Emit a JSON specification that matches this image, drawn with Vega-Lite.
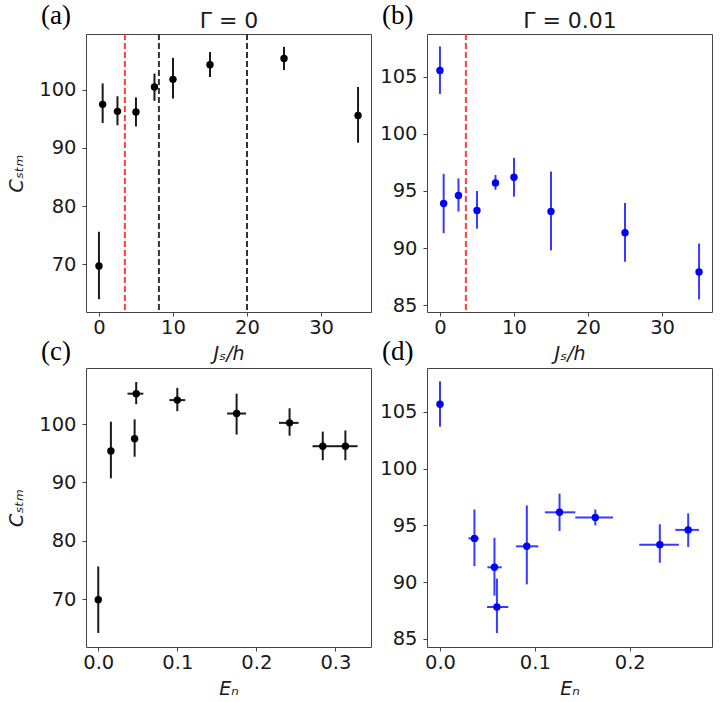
{
  "$schema": "https://vega.github.io/schema/vega-lite/v6.json",
  "padding": {"left": 7, "top": 1, "right": 8, "bottom": 2},
  "columns": 2,
  "spacing": {"row": -27, "column": 7},
  "config": {
    "font": "DejaVu Sans",
    "view": {"stroke": "#444", "strokeWidth": 1, "fill": "white"},
    "axis": {
      "grid": false,
      "domain": false,
      "labelFont": "DejaVu Sans",
      "labelFontSize": 19.5,
      "labelColor": "#1a1a1a",
      "tickColor": "#444",
      "tickSize": 4,
      "titleFont": "DejaVu Sans",
      "titleFontSize": 19,
      "titleFontWeight": "normal",
      "titleColor": "#1a1a1a"
    },
    "axisX": {"labelPadding": 2},
    "axisY": {"labelPadding": 6},
    "title": {"font": "Liberation Serif", "fontSize": 27, "fontWeight": "normal", "color": "black", "anchor": "start", "frame": "group", "dx": -45}
  },
  "datasets": {
    "a": [
      {"Js": 0, "C": 69.7, "lo": 64.0, "hi": 75.6},
      {"Js": 0.5, "C": 97.5, "lo": 94.3, "hi": 101.1},
      {"Js": 2.5, "C": 96.3, "lo": 93.9, "hi": 98.9},
      {"Js": 5, "C": 96.2, "lo": 93.7, "hi": 98.7},
      {"Js": 7.5, "C": 100.5, "lo": 98.1, "hi": 102.8},
      {"Js": 10, "C": 101.8, "lo": 98.5, "hi": 105.5},
      {"Js": 15, "C": 104.3, "lo": 102.2, "hi": 106.5},
      {"Js": 25, "C": 105.4, "lo": 103.4, "hi": 107.4},
      {"Js": 35, "C": 95.6, "lo": 90.9, "hi": 100.5}
    ],
    "b": [
      {"Js": 0, "C": 105.56, "lo": 103.5, "hi": 107.66},
      {"Js": 0.5, "C": 93.9, "lo": 91.3, "hi": 96.5},
      {"Js": 2.5, "C": 94.6, "lo": 93.2, "hi": 96.1},
      {"Js": 5, "C": 93.3, "lo": 91.7, "hi": 95.0},
      {"Js": 7.5, "C": 95.7, "lo": 95.1, "hi": 96.4},
      {"Js": 10, "C": 96.2, "lo": 94.5, "hi": 97.9},
      {"Js": 15, "C": 93.2, "lo": 89.8, "hi": 96.7},
      {"Js": 25, "C": 91.35, "lo": 88.8, "hi": 93.95},
      {"Js": 35, "C": 87.9, "lo": 85.5, "hi": 90.4}
    ],
    "c": [
      {"EN": 0, "C": 69.9, "lo": 64.2, "hi": 75.6, "xlo": 0, "xhi": 0},
      {"EN": 0.016, "C": 95.4, "lo": 90.7, "hi": 100.4, "xlo": 0.016, "xhi": 0.016},
      {"EN": 0.046, "C": 97.5, "lo": 94.4, "hi": 100.8, "xlo": 0.043, "xhi": 0.049},
      {"EN": 0.048, "C": 105.2, "lo": 103.4, "hi": 107.2, "xlo": 0.037, "xhi": 0.057},
      {"EN": 0.1, "C": 104.1, "lo": 102.2, "hi": 106.2, "xlo": 0.09, "xhi": 0.11},
      {"EN": 0.175, "C": 101.8, "lo": 98.2, "hi": 105.2, "xlo": 0.163, "xhi": 0.187},
      {"EN": 0.242, "C": 100.2, "lo": 98.0, "hi": 102.7, "xlo": 0.2286, "xhi": 0.2534},
      {"EN": 0.284, "C": 96.2, "lo": 93.8, "hi": 98.7, "xlo": 0.271, "xhi": 0.297},
      {"EN": 0.3126, "C": 96.2, "lo": 93.8, "hi": 98.9, "xlo": 0.297, "xhi": 0.328}
    ],
    "d": [
      {"EN": 0, "C": 105.68, "lo": 103.7, "hi": 107.7, "xlo": 0, "xhi": 0},
      {"EN": 0.0363, "C": 93.85, "lo": 91.4, "hi": 96.4, "xlo": 0.03, "xhi": 0.041},
      {"EN": 0.0574, "C": 91.3, "lo": 88.8, "hi": 93.9, "xlo": 0.05, "xhi": 0.065},
      {"EN": 0.06, "C": 87.8, "lo": 85.5, "hi": 90.3, "xlo": 0.0496, "xhi": 0.072},
      {"EN": 0.0915, "C": 93.15, "lo": 89.8, "hi": 96.76, "xlo": 0.08, "xhi": 0.1035},
      {"EN": 0.126, "C": 96.15, "lo": 94.5, "hi": 97.8, "xlo": 0.1105, "xhi": 0.1426},
      {"EN": 0.1637, "C": 95.7, "lo": 95.0, "hi": 96.4, "xlo": 0.1426, "xhi": 0.1824},
      {"EN": 0.2317, "C": 93.3, "lo": 91.7, "hi": 95.1, "xlo": 0.21, "xhi": 0.2518},
      {"EN": 0.2616, "C": 94.6, "lo": 93.1, "hi": 96.06, "xlo": 0.248, "xhi": 0.273}
    ]
  },
  "concat": [
    {
      "width": 285,
      "height": 278,
      "title": {"text": "(a)", "offset": -21},
      "data": {"name": "a"},
      "resolve": {"axis": {"x": "independent", "y": "independent"}},
      "layer": [
        {
          "data": {"values": [{"Js": 3.5}]},
          "mark": {"type": "rule", "color": "#ff3b3b", "strokeDash": [6, 3], "strokeWidth": 2},
          "encoding": {"x": {"field": "Js", "type": "quantitative", "axis": null}}
        },
        {
          "data": {"values": [{"Js": 8.1}, {"Js": 20}]},
          "mark": {"type": "rule", "color": "#333333", "strokeDash": [6, 3], "strokeWidth": 2},
          "encoding": {"x": {"field": "Js", "type": "quantitative", "axis": null}}
        },
        {
          "mark": {"type": "rule", "color": "#1a1a1a", "strokeWidth": 2},
          "encoding": {
            "x": {"field": "Js", "type": "quantitative",
              "axis": {"orient": "top", "title": "Γ = 0", "labels": false, "ticks": false, "domain": false, "titleFontSize": 22, "titlePadding": 2}},
            "y": {"field": "lo", "type": "quantitative", "axis": null},
            "y2": {"field": "hi"}
          }
        },
        {
          "mark": {"type": "circle", "size": 55, "opacity": 1, "color": "black"},
          "encoding": {
            "x": {"field": "Js", "type": "quantitative",
              "scale": {"domain": [-1.75, 36.75], "nice": false, "zero": false},
              "axis": {"orient": "bottom", "title": "Jₛ/h", "titleFontStyle": "italic", "values": [0, 10, 20, 30], "titlePadding": 8}},
            "y": {"field": "C", "type": "quantitative",
              "scale": {"domain": [61.8, 109.6], "nice": false, "zero": false},
              "axis": {"orient": "left", "title": "Cₛₜₘ", "titleFontStyle": "italic", "values": [70, 80, 90, 100], "titlePadding": 12}}
          }
        }
      ]
    },
    {
      "width": 285,
      "height": 278,
      "title": {"text": "(b)", "offset": -21},
      "data": {"name": "b"},
      "resolve": {"axis": {"x": "independent", "y": "independent"}},
      "layer": [
        {
          "data": {"values": [{"Js": 3.5}]},
          "mark": {"type": "rule", "color": "#ff3b3b", "strokeDash": [6, 3], "strokeWidth": 2},
          "encoding": {"x": {"field": "Js", "type": "quantitative", "axis": null}}
        },
        {
          "mark": {"type": "rule", "color": "#3a3aff", "strokeWidth": 2},
          "encoding": {
            "x": {"field": "Js", "type": "quantitative",
              "axis": {"orient": "top", "title": "Γ = 0.01", "labels": false, "ticks": false, "domain": false, "titleFontSize": 22, "titlePadding": 2}},
            "y": {"field": "lo", "type": "quantitative", "axis": null},
            "y2": {"field": "hi"}
          }
        },
        {
          "mark": {"type": "circle", "size": 55, "opacity": 1, "color": "blue"},
          "encoding": {
            "x": {"field": "Js", "type": "quantitative",
              "scale": {"domain": [-1.75, 36.75], "nice": false, "zero": false},
              "axis": {"orient": "bottom", "title": "Jₛ/h", "titleFontStyle": "italic", "values": [0, 10, 20, 30], "titlePadding": 8}},
            "y": {"field": "C", "type": "quantitative",
              "scale": {"domain": [84.4, 108.75], "nice": false, "zero": false},
              "axis": {"orient": "left", "title": null, "values": [85, 90, 95, 100, 105]}}
          }
        }
      ]
    },
    {
      "width": 285,
      "height": 279,
      "title": {"text": "(c)", "offset": 2},
      "data": {"name": "c"},
      "resolve": {"axis": {"x": "independent", "y": "independent"}},
      "layer": [
        {
          "mark": {"type": "rule", "color": "#1a1a1a", "strokeWidth": 2},
          "encoding": {
            "x": {"field": "EN", "type": "quantitative", "axis": null},
            "y": {"field": "lo", "type": "quantitative", "axis": null},
            "y2": {"field": "hi"}
          }
        },
        {
          "mark": {"type": "rule", "color": "#1a1a1a", "strokeWidth": 2},
          "encoding": {
            "x": {"field": "xlo", "type": "quantitative", "axis": null},
            "x2": {"field": "xhi"},
            "y": {"field": "C", "type": "quantitative", "axis": null}
          }
        },
        {
          "mark": {"type": "circle", "size": 55, "opacity": 1, "color": "black"},
          "encoding": {
            "x": {"field": "EN", "type": "quantitative",
              "scale": {"domain": [-0.0155, 0.345], "nice": false, "zero": false},
              "axis": {"orient": "bottom", "title": "Eₙ", "titleFontStyle": "italic", "values": [0, 0.1, 0.2, 0.3], "format": ".1f", "titlePadding": 8}},
            "y": {"field": "C", "type": "quantitative",
              "scale": {"domain": [61.8, 109.6], "nice": false, "zero": false},
              "axis": {"orient": "left", "title": "Cₛₜₘ", "titleFontStyle": "italic", "values": [70, 80, 90, 100], "titlePadding": 12}}
          }
        }
      ]
    },
    {
      "width": 285,
      "height": 279,
      "title": {"text": "(d)", "offset": 2},
      "data": {"name": "d"},
      "resolve": {"axis": {"x": "independent", "y": "independent"}},
      "layer": [
        {
          "mark": {"type": "rule", "color": "#3a3aff", "strokeWidth": 2},
          "encoding": {
            "x": {"field": "EN", "type": "quantitative", "axis": null},
            "y": {"field": "lo", "type": "quantitative", "axis": null},
            "y2": {"field": "hi"}
          }
        },
        {
          "mark": {"type": "rule", "color": "#3a3aff", "strokeWidth": 2},
          "encoding": {
            "x": {"field": "xlo", "type": "quantitative", "axis": null},
            "x2": {"field": "xhi"},
            "y": {"field": "C", "type": "quantitative", "axis": null}
          }
        },
        {
          "mark": {"type": "circle", "size": 55, "opacity": 1, "color": "blue"},
          "encoding": {
            "x": {"field": "EN", "type": "quantitative",
              "scale": {"domain": [-0.0137, 0.2867], "nice": false, "zero": false},
              "axis": {"orient": "bottom", "title": "Eₙ", "titleFontStyle": "italic", "values": [0, 0.1, 0.2], "format": ".1f", "titlePadding": 8}},
            "y": {"field": "C", "type": "quantitative",
              "scale": {"domain": [84.27, 108.88], "nice": false, "zero": false},
              "axis": {"orient": "left", "title": null, "values": [85, 90, 95, 100, 105]}}
          }
        }
      ]
    }
  ]
}
